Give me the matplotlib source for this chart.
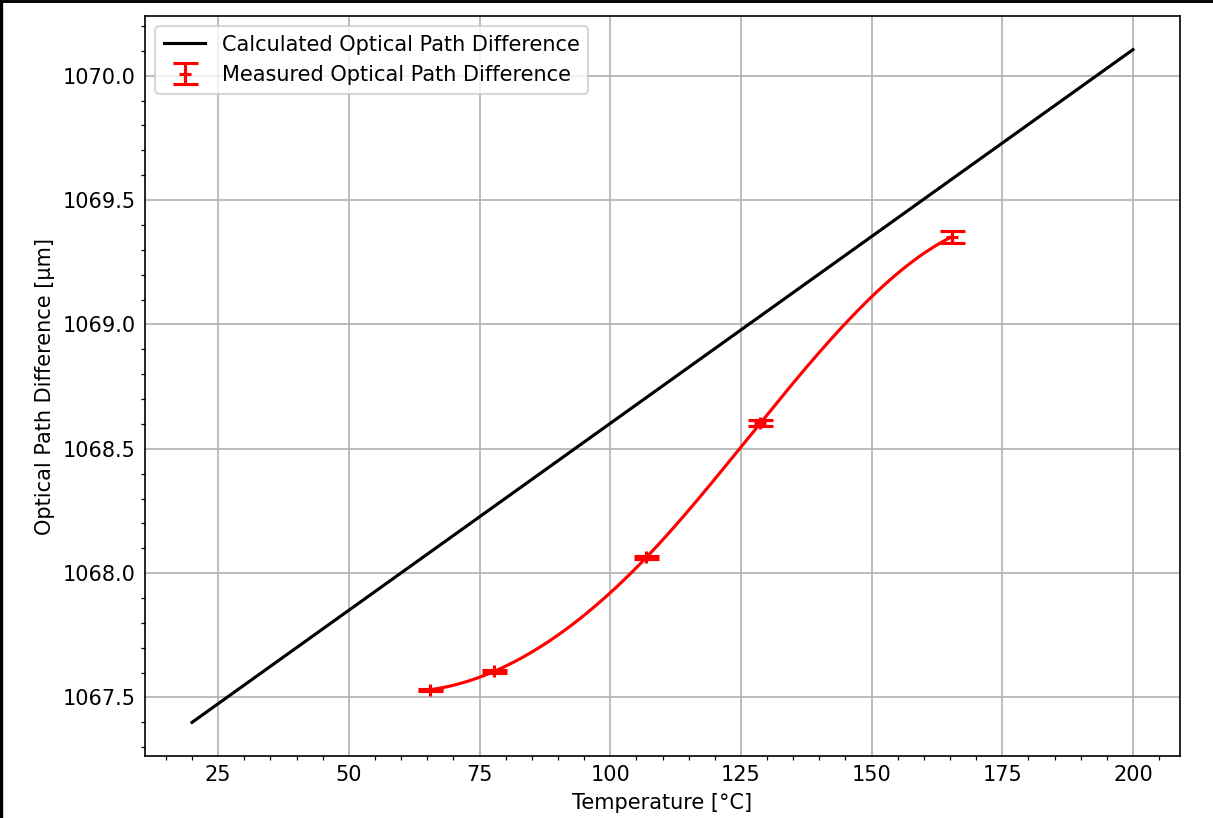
import numpy as np
import matplotlib
matplotlib.use("Agg")
import matplotlib.pyplot as plt
from matplotlib.ticker import MultipleLocator
from matplotlib.lines import Line2D

# Calculated optical path difference (linear)
calc_temp = [20, 200]
calc_opd = [1067.40, 1070.105]

# Measured optical path difference
meas_temp = [65.5, 77.8, 106.9, 128.7, 165.3]
meas_opd = [1067.531, 1067.605, 1068.063, 1068.603, 1069.352]
meas_err = [0.003, 0.005, 0.005, 0.012, 0.025]

labels = ["Calculated Optical Path Difference", "Measured Optical Path Difference"]


def not_a_knot_spline(x, y, xs):
    # two cubic pieces joined at the middle point (not-a-knot cubic spline for 5 points)
    x = np.asarray(x, float)
    y = np.asarray(y, float)
    xm = x[2]
    A = np.zeros((8, 8))
    b = np.zeros(8)
    r = 0
    for i in range(3):
        t = x[i] - xm
        A[r, 0:4] = [1, t, t**2, t**3]
        b[r] = y[i]
        r += 1
    for i in range(2, 5):
        t = x[i] - xm
        A[r, 4:8] = [1, t, t**2, t**3]
        b[r] = y[i]
        r += 1
    # C1 and C2 at xm
    A[r, 1] = 1; A[r, 5] = -1; r += 1
    A[r, 2] = 2; A[r, 6] = -2; r += 1
    c = np.linalg.solve(A, b)
    t = xs - xm
    left = c[0] + c[1]*t + c[2]*t**2 + c[3]*t**3
    right = c[4] + c[5]*t + c[6]*t**2 + c[7]*t**3
    return np.where(xs <= xm, left, right)


plt.rcParams['font.family'] = ['DejaVu Sans']
dpi = 150
fig = plt.figure(figsize=(1213/dpi, 818/dpi), dpi=dpi)
ax = fig.add_axes([145/1213, 1 - 756/818, (1180-145)/1213, (756-16)/818])

ax.plot(calc_temp, calc_opd, color='black', lw=1.5, label=labels[0])

xs = np.linspace(meas_temp[0], meas_temp[-1], 400)
ax.plot(xs, not_a_knot_spline(meas_temp, meas_opd, xs), color='red', lw=1.5)

ax.errorbar(meas_temp, meas_opd, yerr=meas_err, fmt='+', color='red',
            capsize=6, capthick=1.5, elinewidth=1.5, markersize=6, mew=1.5,
            label=labels[1])

ax.xaxis.set_major_locator(MultipleLocator(25))
ax.xaxis.set_minor_locator(MultipleLocator(5))
ax.yaxis.set_major_locator(MultipleLocator(0.5))
ax.yaxis.set_minor_locator(MultipleLocator(0.1))
ax.yaxis.set_major_formatter(matplotlib.ticker.FormatStrFormatter('%.1f'))
ax.tick_params(which='major', length=0, labelsize=10, pad=4.3)
ax.tick_params(which='minor', length=2)
ax.grid(True, which='major', color='#b0b0b0', lw=0.8)
ax.set_axisbelow(True)

ax.set_xlabel("Temperature [°C]", fontsize=10)
ax.set_ylabel("Optical Path Difference [µm]", fontsize=10)
ax.legend(loc='upper left', fontsize=10)

# figure border on left and top
fig.add_artist(Line2D([0.001, 0.001], [0, 1], transform=fig.transFigure, color='black', lw=1.6))
fig.add_artist(Line2D([0, 1], [0.9985, 0.9985], transform=fig.transFigure, color='black', lw=1.4))

fig.savefig("out.png", dpi=dpi)
